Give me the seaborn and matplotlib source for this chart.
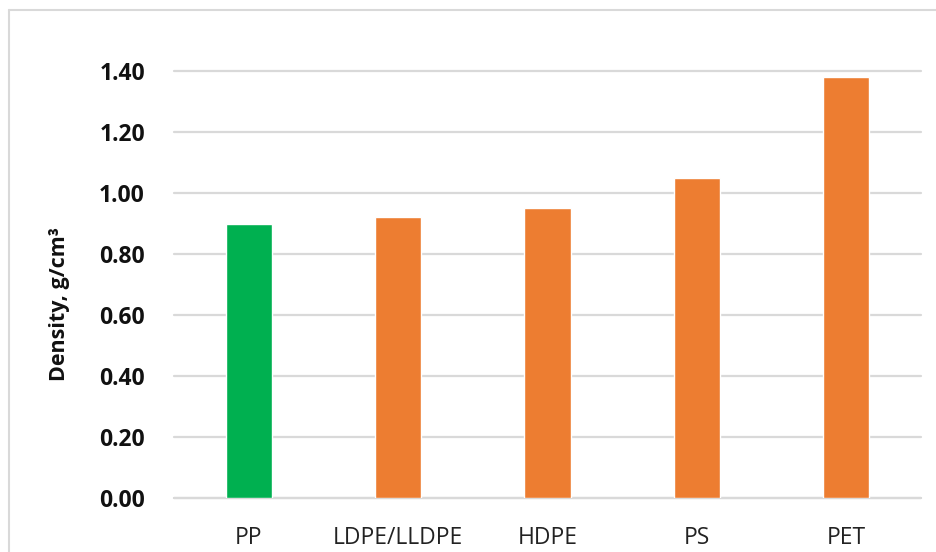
import matplotlib
matplotlib.use("Agg")
import matplotlib.pyplot as plt
from matplotlib.lines import Line2D
import seaborn as sns
import pandas as pd

categories = ["PP", "LDPE/LLDPE", "HDPE", "PS", "PET"]
density = [0.90, 0.92, 0.95, 1.05, 1.38]
bar_colors = ["#00B050", "#ED7D31", "#ED7D31", "#ED7D31", "#ED7D31"]
y_ticks = [0.0, 0.2, 0.4, 0.6, 0.8, 1.0, 1.2, 1.4]

sns.set_style("white")
plt.rcParams["font.family"] = ["Open Sans", "DejaVu Sans"]

df = pd.DataFrame({"polymer": categories, "density": density})

W, H = 937, 552
fig = plt.figure(figsize=(W / 100, H / 100), dpi=100)
ax = fig.add_axes([174 / W, 1 - 498 / H, (921 - 174) / W, (498 - 71) / H])

sns.barplot(data=df, x="polymer", y="density", hue="polymer",
            palette=bar_colors, legend=False, width=0.31, ax=ax,
            saturation=1, zorder=3)

ax.set_xlim(-0.5, len(categories) - 0.5)
ax.set_ylim(0, 1.4)
ax.set_yticks(y_ticks)
ax.set_yticklabels([f"{v:.2f}" for v in y_ticks], fontsize=16.5,
                   fontweight="bold", color="#111111")
ax.tick_params(axis="x", labelsize=16.5, colors="#222222", pad=20, length=0)
ax.tick_params(axis="y", length=0, pad=21)
ax.yaxis.grid(True, color="#D9D9D9", linewidth=1.6, zorder=0)
ax.set_axisbelow(True)
for s in ax.spines.values():
    s.set_visible(False)
ax.axhline(0, color="#D9D9D9", linewidth=1.6, zorder=1, clip_on=False)
for line in ax.yaxis.get_gridlines():
    line.set_clip_on(False)

ax.set_xlabel("")
ax.set_ylabel("Density, g/cm³", fontsize=15.5, fontweight="bold",
              color="#111111")
ax.yaxis.set_label_coords((70 - 174) / 747, 0.455)

# outer frame of the chart area
fig.add_artist(Line2D([9.5 / W, 1.0], [1 - 9.5 / H, 1 - 9.5 / H],
                      transform=fig.transFigure, color="#D9D9D9", linewidth=1.5))
fig.add_artist(Line2D([9.5 / W, 9.5 / W], [0.0, 1 - 9.5 / H],
                      transform=fig.transFigure, color="#D9D9D9", linewidth=1.5))

fig.savefig("out.png", dpi=100)
